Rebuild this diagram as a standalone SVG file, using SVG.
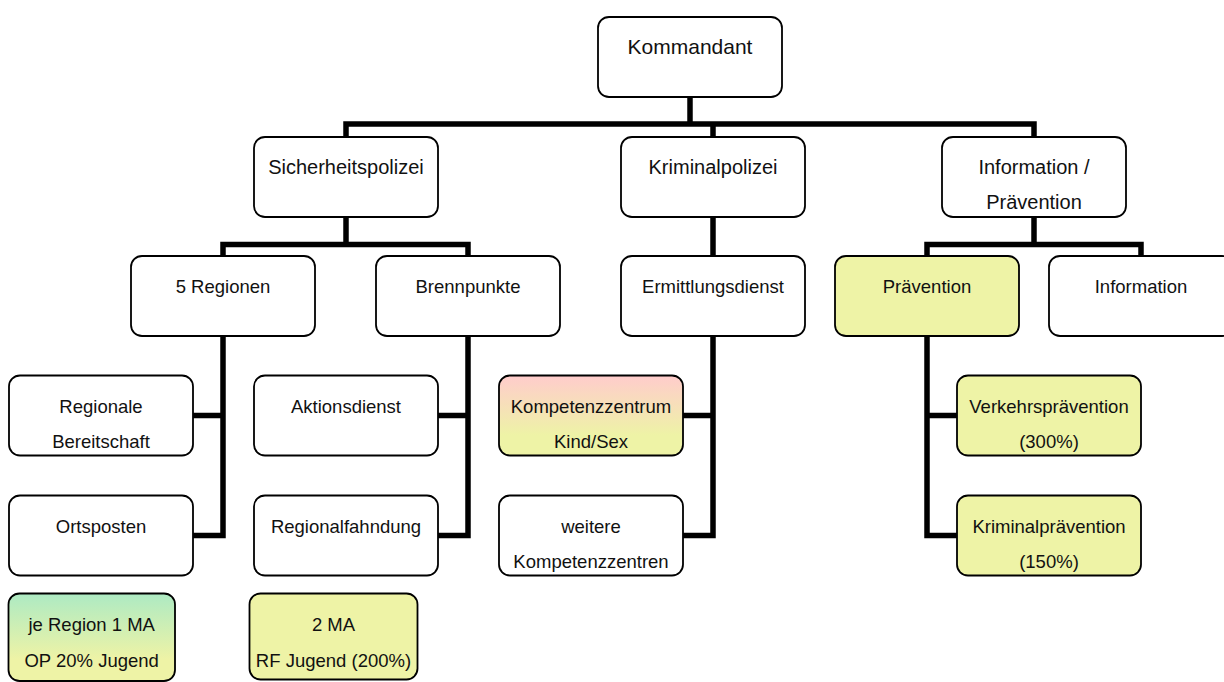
<svg xmlns="http://www.w3.org/2000/svg" width="1224" height="682" viewBox="0 0 1224 682">
<defs>
<linearGradient id="gPink" x1="0" y1="0" x2="0" y2="1">
<stop offset="0" stop-color="#FFCCCC"/>
<stop offset="0.75" stop-color="#EEF3A6"/>
<stop offset="1" stop-color="#EEF3A6"/>
</linearGradient>
<linearGradient id="gGreen" x1="0" y1="0" x2="0" y2="1">
<stop offset="0" stop-color="#ADEAC3"/>
<stop offset="0.75" stop-color="#EEF3A6"/>
<stop offset="1" stop-color="#EEF3A6"/>
</linearGradient>
<style>
.box{fill:#FFFFFF;stroke:#000;stroke-width:1.8}
.yel{fill:#EEF3A6}
.pink{fill:url(#gPink)}
.green{fill:url(#gGreen)}
.con{fill:none;stroke:#000;stroke-width:5.5;stroke-linejoin:miter;stroke-linecap:butt}
text{font-family:"Liberation Sans",Arial,sans-serif;fill:#111;text-anchor:middle}
.t1{font-size:21px}
.t2{font-size:20px}
.t3{font-size:18.5px}
</style>
</defs>
<rect width="1224" height="682" fill="#FFFFFF"/>
<g id="connectors">
<path class="con" d="M690,97 V124"/>
<path class="con" d="M346,137 V124 H1034 V137"/>
<path class="con" d="M713,124 V137"/>
<path class="con" d="M346,217 V244.5"/>
<path class="con" d="M223,256 V244.5 H468 V256"/>
<path class="con" d="M1034,217 V244.5"/>
<path class="con" d="M927,256 V244.5 H1141 V256"/>
<path class="con" d="M713,217 V256"/>
<path class="con" d="M223,336 V535.5 H193 M223,415.5 H193"/>
<path class="con" d="M468,336 V535.5 H438 M468,415.5 H438"/>
<path class="con" d="M713,336 V535.5 H683 M713,415.5 H683"/>
<path class="con" d="M927,336 V535.5 H957 M927,415.5 H957"/>
</g>
<g id="kommandant"><rect class="box" x="598" y="17" width="184" height="80" rx="11"/><text class="t1" x="690" y="53.5">Kommandant</text></g>
<g id="sicherheitspolizei"><rect class="box" x="254" y="137" width="184" height="80" rx="11"/><text class="t2" x="346" y="174">Sicherheitspolizei</text></g>
<g id="kriminalpolizei"><rect class="box" x="621" y="137" width="184" height="80" rx="11"/><text class="t2" x="713" y="174">Kriminalpolizei</text></g>
<g id="information-praevention"><rect class="box" x="942" y="137" width="184" height="80" rx="11"/><text class="t2" x="1034" y="174">Information /</text><text class="t2" x="1034" y="209">Prävention</text></g>
<g id="regionen"><rect class="box" x="131" y="256" width="184" height="80" rx="11"/><text class="t3" x="223" y="293">5 Regionen</text></g>
<g id="brennpunkte"><rect class="box" x="376" y="256" width="184" height="80" rx="11"/><text class="t3" x="468" y="293">Brennpunkte</text></g>
<g id="ermittlungsdienst"><rect class="box" x="621" y="256" width="184" height="80" rx="11"/><text class="t3" x="713" y="293">Ermittlungsdienst</text></g>
<g id="praevention"><rect class="box yel" x="835" y="256" width="184" height="80" rx="11"/><text class="t3" x="927" y="293">Prävention</text></g>
<g id="information"><rect class="box" x="1049" y="256" width="184" height="80" rx="11"/><text class="t3" x="1141" y="293">Information</text></g>
<g id="regionale-bereitschaft"><rect class="box" x="9" y="375.5" width="184" height="80" rx="11"/><text class="t3" x="101" y="412.5">Regionale</text><text class="t3" x="101" y="448">Bereitschaft</text></g>
<g id="ortsposten"><rect class="box" x="9" y="495.5" width="184" height="80" rx="11"/><text class="t3" x="101" y="532.5">Ortsposten</text></g>
<g id="aktionsdienst"><rect class="box" x="254" y="375.5" width="184" height="80" rx="11"/><text class="t3" x="346" y="412.5">Aktionsdienst</text></g>
<g id="regionalfahndung"><rect class="box" x="254" y="495.5" width="184" height="80" rx="11"/><text class="t3" x="346" y="532.5">Regionalfahndung</text></g>
<g id="kompetenzzentrum"><rect class="box pink" x="499" y="375.5" width="184" height="80" rx="11"/><text class="t3" x="591" y="412.5">Kompetenzzentrum</text><text class="t3" x="591" y="448">Kind/Sex</text></g>
<g id="weitere-kompetenzzentren"><rect class="box" x="499" y="495.5" width="184" height="80" rx="11"/><text class="t3" x="591" y="532.5">weitere</text><text class="t3" x="591" y="568">Kompetenzzentren</text></g>
<g id="verkehrspraevention"><rect class="box yel" x="957" y="375.5" width="184" height="80" rx="11"/><text class="t3" x="1049" y="412.5">Verkehrsprävention</text><text class="t3" x="1049" y="448">(300%)</text></g>
<g id="kriminalpraevention"><rect class="box yel" x="957" y="495.5" width="184" height="80" rx="11"/><text class="t3" x="1049" y="532.5">Kriminalprävention</text><text class="t3" x="1049" y="568">(150%)</text></g>
<g id="je-region"><rect class="box green" x="8.5" y="593.5" width="166.5" height="87.5" rx="11"/><text class="t3" x="91.7" y="630.5">je Region 1 MA</text><text class="t3" x="91.7" y="666.5">OP 20% Jugend</text></g>
<g id="zwei-ma"><rect class="box yel" x="249.5" y="593.5" width="168" height="86" rx="11"/><text class="t3" x="333.5" y="630.5">2 MA</text><text class="t3" x="333.5" y="666.5">RF Jugend (200%)</text></g>
</svg>
